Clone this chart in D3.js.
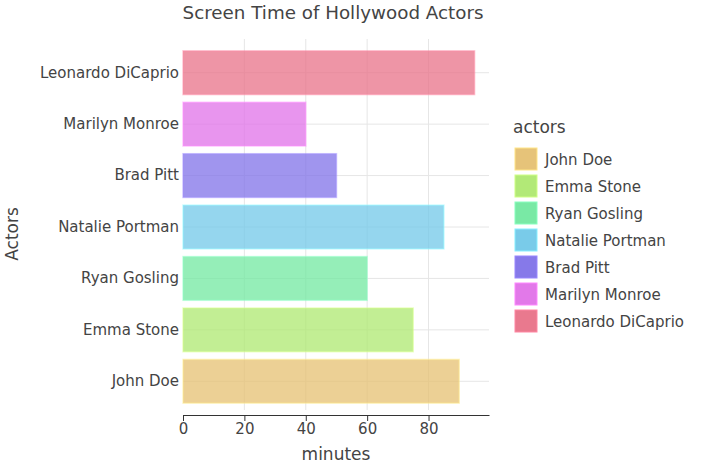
<!DOCTYPE html>
<html><head><meta charset="utf-8">
<script src="https://cdn.jsdelivr.net/npm/d3@7"></script>
<style>body{margin:0;background:#fff}svg{display:block}text{font-family:"DejaVu Sans",sans-serif;fill:#444}</style>
</head><body>
<svg id="c" width="705" height="470"></svg>
<script>
const actors = ["John Doe","Emma Stone","Ryan Gosling","Natalie Portman","Brad Pitt","Marilyn Monroe","Leonardo DiCaprio"];
const minutes = [90,75,60,85,50,40,95];
const colors = ["#e5c072","#aee870","#72e8a0","#72c8e8","#8072e8","#e072e8","#e87288"];
const xTicks = [0,20,40,60,80];

const svg = d3.select("#c");
const L=183, R=489, T=39, B=410;
const x = d3.scaleLinear().domain([0,99.7]).range([L,R]);
const y = d3.scaleBand().domain(actors.slice().reverse()).range([47,407]).paddingInner(0.15).paddingOuter(0.075);
const col = d3.scaleOrdinal().domain(actors).range(colors);

// grid
svg.append("g").selectAll("line").data(xTicks.slice(1)).join("line")
  .attr("x1",d=>x(d)).attr("x2",d=>x(d)).attr("y1",T).attr("y2",B)
  .attr("stroke","#e6e6e6").attr("stroke-width",1);
svg.append("g").selectAll("line").data(actors).join("line")
  .attr("x1",L).attr("x2",R).attr("y1",d=>y(d)+y.bandwidth()/2).attr("y2",d=>y(d)+y.bandwidth()/2)
  .attr("stroke","#e6e6e6").attr("stroke-width",1);

// bars
svg.append("g").selectAll("rect").data(actors).join("rect")
  .attr("x",x(0)).attr("y",d=>y(d))
  .attr("width",(d,i)=>x(minutes[i])-x(0)).attr("height",y.bandwidth())
  .attr("fill",d=>col(d)).attr("fill-opacity",0.75)
  .attr("stroke",d=>d3.color(col(d)).brighter(0.6)).attr("stroke-opacity",0.5).attr("stroke-width",1.5);

// x axis
const xa = svg.append("g").attr("transform",`translate(0,415)`)
  .call(d3.axisBottom(x).tickValues(xTicks).tickSize(6).tickSizeOuter(0).tickPadding(2));
xa.select(".domain").attr("stroke","#333").attr("stroke-width",1.2);
xa.selectAll(".tick line").attr("stroke","#333");
xa.selectAll("text").attr("font-size",15).attr("fill","#444").attr("font-family","DejaVu Sans");

// y labels
const ya = svg.append("g").attr("transform",`translate(${L},0)`)
  .call(d3.axisLeft(y).tickSize(0).tickPadding(4));
ya.select(".domain").remove();
ya.selectAll("text").attr("font-size",15).attr("fill","#444").attr("font-family","DejaVu Sans");

// titles
svg.append("text").attr("x",333).attr("y",19).attr("text-anchor","middle").attr("font-size",18.3).text("Screen Time of Hollywood Actors");
svg.append("text").attr("x",336).attr("y",460).attr("text-anchor","middle").attr("font-size",17).text("minutes");
svg.append("text").attr("transform","translate(18,234) rotate(-90)").attr("text-anchor","middle").attr("font-size",17).text("Actors");

// legend
const lg = svg.append("g");
lg.append("text").attr("x",513).attr("y",133).attr("font-size",17).text("actors");
const items = lg.selectAll("g").data(actors).join("g").attr("transform",(d,i)=>`translate(515,${148+i*27})`);
items.append("rect").attr("width",22).attr("height",22).attr("fill",d=>col(d)).attr("fill-opacity",0.95)
  .attr("stroke",d=>d3.color(col(d)).brighter(0.5)).attr("stroke-width",1);
items.append("text").attr("x",30).attr("y",16.5).attr("font-size",15).text(d=>d);
</script>
</body></html>
